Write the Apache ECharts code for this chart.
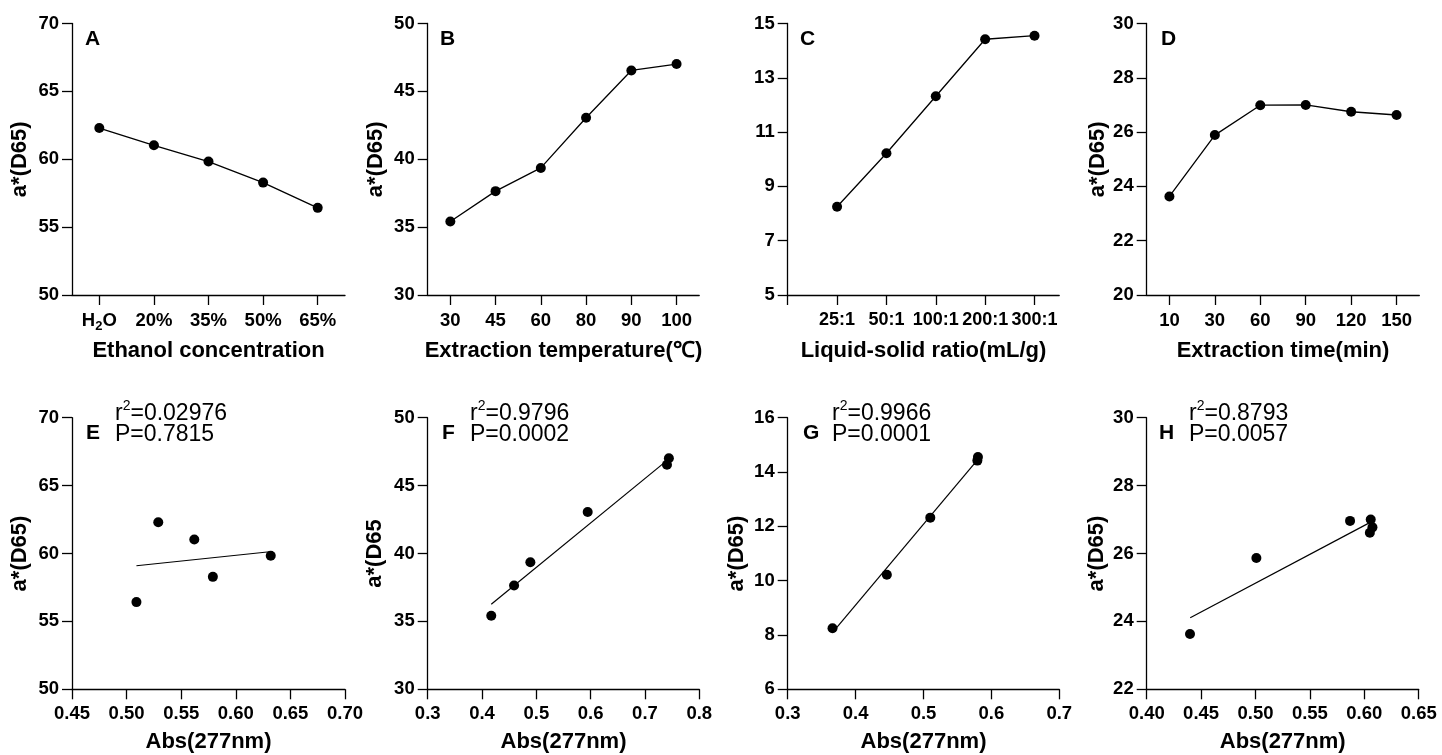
<!DOCTYPE html>
<html>
<head>
<meta charset="utf-8">
<script src="https://cdn.jsdelivr.net/npm/echarts@6/dist/echarts.min.js"></script>
<style>
  html, body { margin: 0; padding: 0; background: #fff; }
  #main { width: 1442px; height: 755px; }
</style>
</head>
<body>
<div id="main"></div>
<script>
// top row: single factor experiments
const concA = ['H2O', '20%', '35%', '50%', '65%'];
const valA = [62.3, 61.03, 59.83, 58.28, 56.42];
const tempB = ['30', '45', '60', '80', '90', '100'];
const valB = [35.42, 37.65, 39.36, 43.06, 46.54, 47.01];
const ratioC = ['25:1', '50:1', '100:1', '200:1', '300:1'];
const posC = [1, 2, 3, 4, 5];
const valC = [8.25, 10.22, 12.32, 14.42, 14.55];
const timeD = ['10', '30', '60', '90', '120', '150'];
const valD = [23.63, 25.89, 26.99, 27.0, 26.75, 26.63];

// bottom row: a* vs Abs(277nm)
const absE = [0.529, 0.562, 0.632, 0.579, 0.509];
const absF = [0.417, 0.459, 0.489, 0.5945, 0.7405, 0.744];
const absG = [0.366, 0.446, 0.510, 0.5793, 0.5802];
const absH = [0.4398, 0.5008, 0.5869, 0.6059, 0.6075, 0.6051];
const aH = [23.63, 25.87, 26.96, 27.0, 26.77, 26.61];

// fitted lines (ends)
const fitE = [[0.509, 59.1], [0.631, 60.13]];
const fitF = [[0.417, 36.26], [0.743, 46.93]];
const fitG = [[0.369, 8.18], [0.578, 14.40]];
const fitH = [[0.440, 24.11], [0.605, 26.91]];

const stats = [
  ['r', '2', '=0.02976', 'P=0.7815'],
  ['r', '2', '=0.9796', 'P=0.0002'],
  ['r', '2', '=0.9966', 'P=0.0001'],
  ['r', '2', '=0.8793', 'P=0.0057']
];

const FONT = '"Liberation Sans", Arial, sans-serif';
const chart = echarts.init(document.getElementById('main'));

const lineStyle = { color: '#000', width: 1.3 };
const tickLabel = { color: '#000', fontSize: 18.5, fontWeight: 'bold', fontFamily: FONT };
const nameStyle = { color: '#000', fontSize: 22, fontWeight: 'bold', fontFamily: FONT };

const grids = [
  { left: 72, top: 23.5, width: 273, height: 271.5 },
  { left: 427.7, top: 23.5, width: 271.5, height: 271.5 },
  { left: 787.7, top: 23.5, width: 271.5, height: 271.5 },
  { left: 1146.7, top: 23.5, width: 272.6, height: 271.5 },
  { left: 72, top: 417.7, width: 273, height: 271.6 },
  { left: 427.7, top: 417.7, width: 271.6, height: 271.6 },
  { left: 787.7, top: 417.7, width: 271.6, height: 271.6 },
  { left: 1146.7, top: 417.7, width: 272, height: 271.6 }
].map(g => Object.assign({ containLabel: false, outerBoundsMode: 'none' }, g));

function yAx(i, min, max, step, name, gap) {
  return {
    type: 'value', gridIndex: i, min: min, max: max, interval: step,
    name: name || '', nameLocation: 'middle', nameGap: gap || 42, nameTextStyle: nameStyle,
    axisLine: { show: true, lineStyle: lineStyle },
    axisTick: { show: true, length: 10, lineStyle: lineStyle },
    axisLabel: Object.assign({ margin: 13, showMinLabel: true, showMaxLabel: true }, tickLabel),
    splitLine: { show: false }
  };
}

function catAx(i, cats, name) {
  return {
    type: 'category', gridIndex: i, data: cats, boundaryGap: true,
    name: name, nameLocation: 'middle', nameGap: 45, nameTextStyle: nameStyle,
    axisLine: { show: true, lineStyle: lineStyle },
    axisTick: { show: true, alignWithLabel: true, length: 10, lineStyle: lineStyle },
    axisLabel: Object.assign({ margin: 16, interval: 0 }, tickLabel),
    splitLine: { show: false }
  };
}

function absAx(i, min, max, step, digits) {
  return {
    type: 'value', gridIndex: i, min: min, max: max, interval: step,
    name: 'Abs(277nm)', nameLocation: 'middle', nameGap: 42, nameTextStyle: nameStyle,
    axisLine: { show: true, onZero: false, lineStyle: lineStyle },
    axisTick: { show: true, length: 10, lineStyle: lineStyle },
    axisLabel: Object.assign({
      margin: 15, showMinLabel: true, showMaxLabel: true,
      formatter: v => v.toFixed(digits)
    }, tickLabel),
    splitLine: { show: false }
  };
}

const xA = catAx(0, concA, 'Ethanol concentration');
xA.axisLabel.formatter = v => v === 'H2O' ? '{n|H}{s|2}{n|O}' : v;
xA.axisLabel.rich = {
  n: { fontSize: 18.5, fontWeight: 'bold', fontFamily: FONT, color: '#000', lineHeight: 19, verticalAlign: 'top' },
  s: { fontSize: 13, fontWeight: 'bold', fontFamily: FONT, color: '#000', lineHeight: 13, verticalAlign: 'top', padding: [9, 0, 0, 0] }
};

const xC = {
  type: 'value', gridIndex: 2, min: 0, max: 5.5, interval: 1,
  name: 'Liquid-solid ratio(mL/g)', nameLocation: 'middle', nameGap: 45, nameTextStyle: nameStyle,
  axisLine: { show: true, onZero: false, lineStyle: lineStyle },
  axisTick: { show: true, length: 10, lineStyle: lineStyle, customValues: [0].concat(posC) },
  axisLabel: Object.assign({}, tickLabel, {
    fontSize: 18, margin: 16, customValues: posC,
    formatter: v => ratioC[Math.round(v) - 1] || ''
  }),
  splitLine: { show: false }
};

const xAxes = [
  xA,
  catAx(1, tempB, 'Extraction temperature(\u2103)'),
  xC,
  catAx(3, timeD, 'Extraction time(min)'),
  absAx(4, 0.45, 0.70, 0.05, 2),
  absAx(5, 0.3, 0.8, 0.1, 1),
  absAx(6, 0.3, 0.7, 0.1, 1),
  absAx(7, 0.40, 0.65, 0.05, 2)
];

const yAxes = [
  yAx(0, 50, 70, 5, 'a*(D65)', 41),
  yAx(1, 30, 50, 5, 'a*(D65)', 41),
  yAx(2, 5, 15, 2, ''),
  yAx(3, 20, 30, 2, 'a*(D65)', 37),
  yAx(4, 50, 70, 5, 'a*(D65)', 41),
  yAx(5, 30, 50, 5, 'a*(D65', 42),
  yAx(6, 6, 16, 2, 'a*(D65)', 40),
  yAx(7, 22, 30, 2, 'a*(D65)', 39)
];

function lineSeries(i, data) {
  return {
    type: 'line', xAxisIndex: i, yAxisIndex: i, data: data,
    symbol: 'circle', symbolSize: 10, itemStyle: { color: '#000', opacity: 1 },
    lineStyle: { color: '#000', width: 1.3 }, animation: false
  };
}
function dotSeries(i, xs, ys) {
  return {
    type: 'scatter', xAxisIndex: i, yAxisIndex: i, data: xs.map((x, k) => [x, ys[k]]),
    symbol: 'circle', symbolSize: 10, itemStyle: { color: '#000', opacity: 1 }, animation: false
  };
}
function fitSeries(i, data) {
  return {
    type: 'line', xAxisIndex: i, yAxisIndex: i, data: data, symbol: 'none',
    lineStyle: { color: '#000', width: 1.2 }, animation: false
  };
}

const series = [
  lineSeries(0, valA),
  lineSeries(1, valB),
  lineSeries(2, posC.map((p, k) => [p, valC[k]])),
  lineSeries(3, valD),
  dotSeries(4, absE, valA), fitSeries(4, fitE),
  dotSeries(5, absF, valB), fitSeries(5, fitF),
  dotSeries(6, absG, valC), fitSeries(6, fitG),
  dotSeries(7, absH, aH), fitSeries(7, fitH)
];

// panel letters and regression statistics
const letters = [
  ['A', 85, 47], ['B', 440, 47], ['C', 800, 47], ['D', 1161, 47],
  ['E', 86, 441], ['F', 442, 441], ['G', 803, 441], ['H', 1159, 441]
];
const statX = [115, 470, 832, 1189];
const graphic = [];
letters.forEach(l => graphic.push({
  type: 'text', left: l[1], top: l[2] - 18,
  style: { text: l[0], fill: '#000', font: 'bold 21px ' + FONT }
}));
stats.forEach((s, k) => {
  graphic.push({
    type: 'text', left: statX[k], top: 399,
    style: {
      text: '{b|' + s[0] + '}{p|' + s[1] + '}{b|' + s[2] + '}',
      rich: {
        b: { font: '23px ' + FONT, fill: '#000', lineHeight: 26, verticalAlign: 'bottom' },
        p: { font: '14px ' + FONT, fill: '#000', lineHeight: 26, verticalAlign: 'top', padding: [0, 0, 8, 0] }
      }
    }
  });
  graphic.push({
    type: 'text', left: statX[k], top: 423,
    style: { text: s[3], fill: '#000', font: '23px ' + FONT }
  });
});

chart.setOption({
  animation: false,
  backgroundColor: '#fff',
  grid: grids,
  xAxis: xAxes,
  yAxis: yAxes,
  series: series,
  graphic: graphic
});
</script>
</body>
</html>
